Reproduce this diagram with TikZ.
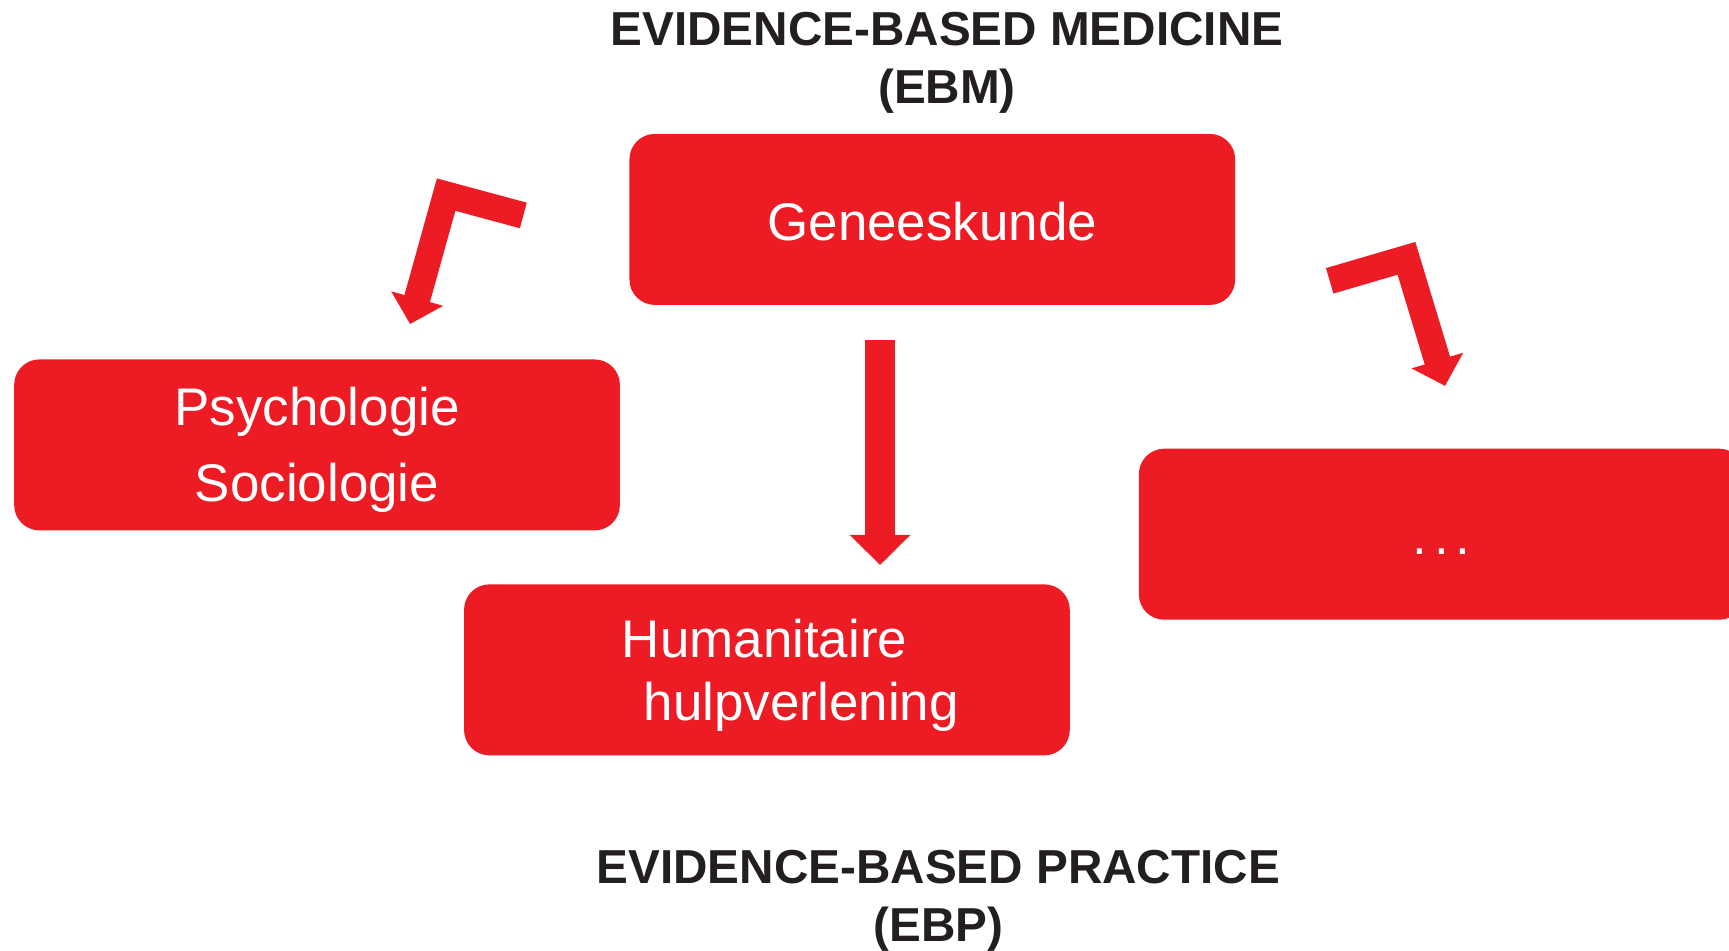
\documentclass[tikz,border=0pt]{standalone}
\usepackage{fontspec}
\setmainfont{Liberation Sans}
\usepackage{xcolor}
\usepackage{tikz}
\usetikzlibrary{arrows.meta}
\definecolor{boxcolor}{HTML}{ED1C24}
\definecolor{titlecolor}{HTML}{231F20}
\newcommand{\boxstrut}{\vrule height 0.92em depth 0.14em width 0pt}
\tikzset{
  redbox/.style={fill=boxcolor, rounded corners=0.23cm, minimum width=5.49cm, minimum height=1.55cm, inner sep=0pt, text=white, font=\fontsize{0.48cm}{0.69cm}\selectfont},
  titletext/.style={anchor=base, align=center, text=titlecolor, font=\fontsize{0.432cm}{0.528cm}\selectfont\bfseries},
  bentarrow/.style={draw=boxcolor, line width=0.24cm, line join=miter, -{Triangle[width=0.475cm, length=0.24cm]}},
  downarrow/.style={draw=boxcolor, line width=0.266cm, -{Triangle[width=0.532cm, length=0.272cm]}},
}
\begin{document}
\begin{tikzpicture}[x=0.01cm, y=-0.01cm]%
\useasboundingbox (0,0) rectangle (1568,862);%
\clip (0,0) rectangle (1568,862);%
\node[titletext] (ebm) at (858.8, 93.7) {EVIDENCE-BASED MEDICINE\\(EBM)};%
\node[titletext] (ebp) at (851, 854) {EVIDENCE-BASED PRACTICE\\(EBP)};%
\node[redbox] (genees) at (845.5, 199) {\boxstrut Geneeskunde};%
\node[redbox, align=center] (psysoc) at (287.5, 403.5) {\boxstrut Psychologie\\Sociologie\boxstrut};%
\node[redbox, align=left, text width=5.49cm, font=\fontsize{0.48cm}{0.575cm}\selectfont] (hulp) at (695.5, 607.5) {\hspace*{1.43cm}\boxstrut Humanitaire\\\hspace*{1.63cm}hulpverlening\boxstrut};%
\node[redbox] (overig) at (1307.5, 484.5) {\boxstrut.\kern0.061cm.\kern0.061cm.};%
% arrows
\coordinate (lstart) at (474.6, 195.4);%
\coordinate (lbend) at (404.6, 176.5);%
\coordinate (ltip) at (371.9, 293.9);%
\coordinate (rstart) at (1205.9, 254.7);%
\coordinate (rbend) at (1275.5, 234.3);%
\coordinate (rtip) at (1310.5, 350);%
\coordinate (dstart) at (798.1, 308.4);%
\coordinate (dtip) at (798.1, 512.4);%
\draw[bentarrow] (lstart) -- (lbend) -- (ltip);%
\draw[bentarrow] (rstart) -- (rbend) -- (rtip);%
\draw[downarrow] (dstart) -- (dtip);%
\end{tikzpicture}
\end{document}
